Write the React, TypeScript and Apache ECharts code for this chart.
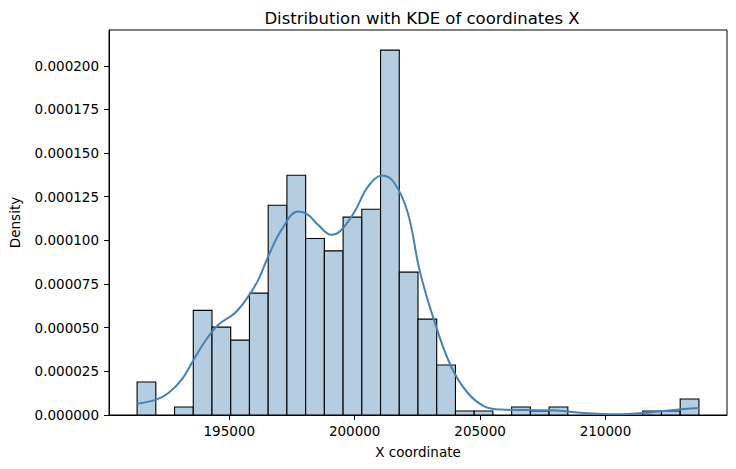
import React, { useEffect, useRef } from "react";
import * as echarts from "echarts";

// Histogram bins: start of the first bin, width of each bin
const binStart = 191323;
const binWidth = 746.8;
const densities = [
  0.0000189, 0, 0.0000046, 0.0000599, 0.0000503, 0.0000429, 0.0000698, 0.0001201,
  0.0001373, 0.0001011, 0.000094, 0.0001133, 0.0001178, 0.000209, 0.0000818,
  0.0000549, 0.0000286, 0.0000023, 0.0000023, 0, 0.0000046, 0.0000023, 0.0000046,
  0, 0, 0, 0, 0.0000023, 0.0000023, 0.0000092,
];

// KDE curve
const kdeX = [
  191323, 192079, 192573, 193102, 193540, 194029, 194562, 195223, 195756, 196154,
  196552, 197081, 197746, 198144, 198542, 199071, 199469, 200000, 200531, 201100,
  201590, 202123, 202585, 203181, 203846, 204511, 205171, 205835, 206800, 207824,
  209139, 210480, 211793, 213118, 213727,
];
const kdeY = [
  0.0000065, 0.0000088, 0.0000126, 0.0000202, 0.0000307, 0.0000421, 0.0000517,
  0.0000584, 0.0000679, 0.0000774, 0.0000908, 0.000106, 0.0001165, 0.0001146,
  0.0001089, 0.0001032, 0.000106, 0.0001165, 0.0001308, 0.0001371, 0.0001327,
  0.0001156, 0.0000831, 0.0000536, 0.0000278, 0.0000126, 0.000005, 0.0000031,
  0.0000028, 0.0000027, 0.0000011, 0.0000004, 0.0000015, 0.0000034, 0.000004,
];

const xTicks = [195000, 200000, 205000, 210000];
const yTicks = [0, 0.000025, 0.00005, 0.000075, 0.0001, 0.000125, 0.00015, 0.000175, 0.0002];

const xMin = 190203;
const xMax = 214847;
const yMax = 0.0002205;

const FONT = "DejaVu Sans";

export default function App() {
  const ref = useRef<HTMLDivElement>(null);
  useEffect(() => {
    if (!ref.current) return;
    document.body.style.margin = "0";
    const chart = echarts.init(ref.current, null, { renderer: "svg" });
    const barData = densities.map((d, i) => [binStart + i * binWidth, binStart + (i + 1) * binWidth, d]);
    chart.setOption({
      animation: false,
      textStyle: { fontFamily: FONT },
      title: {
        text: "Distribution with KDE of coordinates X",
        left: 417,
        top: 5,
        textAlign: "center",
        textStyle: { fontFamily: FONT, fontSize: 16.5, fontWeight: "normal", color: "#000" },
      },
      grid: {
        left: 107,
        right: 9,
        top: 30,
        bottom: 54,
        show: true,
        borderColor: "#000",
        borderWidth: 1,
        backgroundColor: "transparent",
      },
      xAxis: {
        type: "value",
        min: xMin,
        max: xMax,
        name: "X coordinate",
        nameLocation: "middle",
        nameGap: 30,
        nameTextStyle: { fontFamily: FONT, fontSize: 13.5, color: "#000" },
        axisLine: { show: true, onZero: false, lineStyle: { color: "#000", width: 1 } },
        axisTick: { show: true, inside: false, length: 5, lineStyle: { color: "#000" }, customValues: xTicks },
        axisLabel: {
          fontFamily: FONT,
          fontSize: 13.5,
          color: "#000",
          margin: 9,
          customValues: xTicks,
          formatter: (v: number) => String(Math.round(v)),
        },
        splitLine: { show: false },
      },
      yAxis: {
        type: "value",
        min: 0,
        max: yMax,
        name: "Density",
        nameLocation: "middle",
        nameGap: 87,
        nameRotate: 90,
        nameTextStyle: { fontFamily: FONT, fontSize: 13.5, color: "#000" },
        axisLine: { show: true, lineStyle: { color: "#000", width: 1 } },
        axisTick: { show: true, inside: false, length: 5, lineStyle: { color: "#000" }, customValues: yTicks },
        axisLabel: {
          fontFamily: FONT,
          fontSize: 13.5,
          color: "#000",
          margin: 10,
          customValues: yTicks,
          formatter: (v: number) => v.toFixed(6),
        },
        splitLine: { show: false },
      },
      series: [
        {
          type: "custom",
          data: barData,
          encode: { x: [0, 1], y: 2 },
          renderItem: (params: any, api: any) => {
            const x0 = api.value(0);
            const x1 = api.value(1);
            const h = api.value(2);
            if (!h) return null;
            const p0 = api.coord([x0, h]);
            const p1 = api.coord([x1, 0]);
            return {
              type: "rect",
              shape: { x: p0[0], y: p0[1], width: p1[0] - p0[0], height: p1[1] - p0[1] },
              style: { fill: "#b5cde1", stroke: "#000", lineWidth: 1.1 },
            };
          },
          z: 2,
        },
        {
          type: "line",
          data: kdeX.map((x, i) => [x, kdeY[i]]),
          smooth: 0.4,
          showSymbol: false,
          symbol: "none",
          lineStyle: { color: "#4682b4", width: 2 },
          z: 3,
        },
      ],
    });
    return () => chart.dispose();
  }, []);
  return <div ref={ref} style={{ position: "absolute", left: 0, top: 0, width: 736, height: 469 }} />;
}
